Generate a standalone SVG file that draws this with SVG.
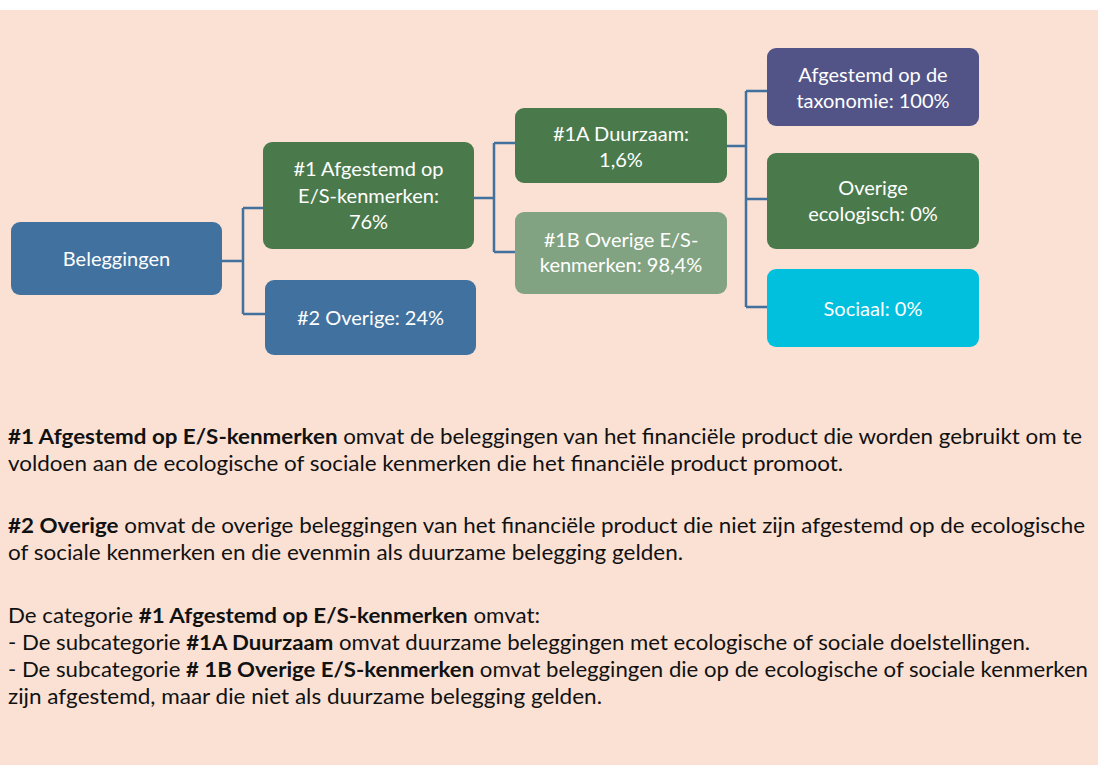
<svg xmlns="http://www.w3.org/2000/svg" width="1098" height="765" viewBox="0 0 1098 765">
<style>
.node text{font-family:Lato,"Open Sans",sans-serif;font-size:20px;fill:#ffffff;text-anchor:middle}
.body{font-family:Lato,"Open Sans",sans-serif;font-size:21px;fill:#111111}
.b{font-weight:bold}
.conn{fill:none;stroke:#41719C;stroke-width:2.5}
</style>
<rect x="0" y="0" width="1098" height="765" fill="#ffffff"/>
<rect x="0" y="10" width="1098" height="755" fill="#FAE1D4"/>
<g id="connectors">
<path class="conn" d="M222,261 H243 M243,208 V314 M243,208 H263 M243,314 H265"/>
<path class="conn" d="M474,198 H494 M494,143 V252 M494,143 H515 M494,252 H515"/>
<path class="conn" d="M727,146 H746 M746,91 V307 M746,91 H767 M746,199 H767 M746,307 H767"/>
</g>
<g id="beleggingen" class="node"><rect x="11" y="222" width="211" height="73" rx="9" fill="#41729F"/><text x="116.5" y="266">Beleggingen</text></g>
<g id="n1" class="node"><rect x="263" y="142" width="211" height="107" rx="9" fill="#4A7A4C"/><text x="368.5" y="176">#1 Afgestemd op</text><text x="368.5" y="203">E/S-kenmerken:</text><text x="368.5" y="229">76%</text></g>
<g id="n2" class="node"><rect x="265" y="280" width="211" height="75" rx="9" fill="#41729F"/><text x="370.5" y="325">#2 Overige: 24%</text></g>
<g id="n1a" class="node"><rect x="515" y="108" width="212" height="75" rx="9" fill="#4A7A4C"/><text x="621" y="141">#1A Duurzaam:</text><text x="621" y="167">1,6%</text></g>
<g id="n1b" class="node"><rect x="515" y="212" width="212" height="82" rx="9" fill="#82A382"/><text x="621" y="247">#1B Overige E/S-</text><text x="621" y="272">kenmerken: 98,4%</text></g>
<g id="taxonomie" class="node"><rect x="767" y="48" width="212" height="78" rx="9" fill="#525488"/><text x="873" y="82">Afgestemd op de</text><text x="873" y="108">taxonomie: 100%</text></g>
<g id="ecologisch" class="node"><rect x="767" y="153" width="212" height="96" rx="9" fill="#4A7A4C"/><text x="873" y="195">Overige</text><text x="873" y="221">ecologisch: 0%</text></g>
<g id="sociaal" class="node"><rect x="767" y="269" width="212" height="78" rx="9" fill="#00C0DE"/><text x="873" y="316">Sociaal: 0%</text></g>
<g id="tekst">
<text class="body" x="8" y="444" textLength="1074" lengthAdjust="spacingAndGlyphs"><tspan class="b">#1 Afgestemd op E/S-kenmerken</tspan> omvat de beleggingen van het financiële product die worden gebruikt om te</text>
<text class="body" x="8" y="471" textLength="835" lengthAdjust="spacingAndGlyphs">voldoen aan de ecologische of sociale kenmerken die het financiële product promoot.</text>
<text class="body" x="8" y="533" textLength="1077" lengthAdjust="spacingAndGlyphs"><tspan class="b">#2 Overige</tspan> omvat de overige beleggingen van het financiële product die niet zijn afgestemd op de ecologische</text>
<text class="body" x="8" y="560" textLength="675" lengthAdjust="spacingAndGlyphs">of sociale kenmerken en die evenmin als duurzame belegging gelden.</text>
<text class="body" x="8" y="623" textLength="532" lengthAdjust="spacingAndGlyphs">De categorie <tspan class="b">#1 Afgestemd op E/S-kenmerken</tspan> omvat:</text>
<text class="body" x="8" y="650" textLength="1022" lengthAdjust="spacingAndGlyphs">- De subcategorie <tspan class="b">#1A Duurzaam</tspan> omvat duurzame beleggingen met ecologische of sociale doelstellingen.</text>
<text class="body" x="8" y="677" textLength="1080" lengthAdjust="spacingAndGlyphs">- De subcategorie <tspan class="b"># 1B Overige E/S-kenmerken</tspan> omvat beleggingen die op de ecologische of sociale kenmerken</text>
<text class="body" x="8" y="704" textLength="594" lengthAdjust="spacingAndGlyphs">zijn afgestemd, maar die niet als duurzame belegging gelden.</text>
</g>
</svg>
